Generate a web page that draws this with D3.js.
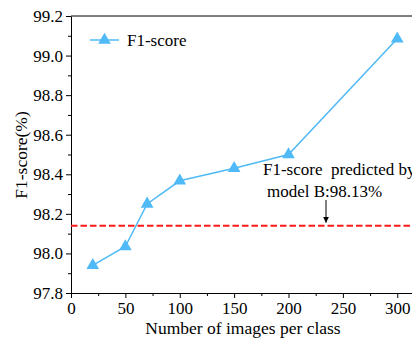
<!DOCTYPE html>
<html>
<head>
<meta charset="utf-8">
<script src="https://cdn.jsdelivr.net/npm/d3@7"></script>
<style>
  body { margin: 0; background: #fff; }
</style>
</head>
<body>
<svg id="chart"></svg>
<script>
// data
const imagesPerClass = [20, 50, 70, 100, 150, 200, 300];
const f1Score = [97.94, 98.035, 98.25, 98.367, 98.43, 98.50, 99.085];
const predictedB = 98.14;
const xTicks = [0, 50, 100, 150, 200, 250, 300];
const yTicks = [97.8, 98.0, 98.2, 98.4, 98.6, 98.8, 99.0, 99.2];

const W = 412, H = 347;
const FONT = "Liberation Serif";
let margin = {top: 16, right: -7, bottom: 54, left: 71};
let width = W - margin.left - margin.right;
let height = H - margin.top - margin.bottom;

const blue = "#4fbaf6";

let svg = d3.select("#chart")
    .attr("width", W)
    .attr("height", H);

let g = svg.append("g")
    .attr("transform", `translate(${margin.left},${margin.top})`);

let x = d3.scaleLinear()
    .domain([0, 320])
    .range([0, width]);

let y = d3.scaleLinear()
    .domain([97.8, 99.2])
    .range([height, 0]);

// minor ticks first
g.append("g")
    .attr("transform", `translate(0,${height})`)
    .call(d3.axisBottom(x).tickValues(d3.range(25, 320, 50)).tickSize(3).tickFormat(""))
    .call(a => a.select(".domain").remove());
g.append("g")
    .call(d3.axisLeft(y).tickValues(d3.range(97.9, 99.2, 0.2)).tickSize(3).tickFormat(""))
    .call(a => a.select(".domain").remove());

let xAxis = g.append("g")
    .attr("transform", `translate(0,${height})`)
    .call(d3.axisBottom(x).tickValues(xTicks).tickSize(5).tickSizeOuter(0).tickPadding(4));

let yAxis = g.append("g")
    .call(d3.axisLeft(y).tickValues(yTicks).tickSize(5).tickSizeOuter(0).tickPadding(3)
        .tickFormat(d3.format(".1f")));

[xAxis, yAxis].forEach(a => {
    a.attr("font-family", FONT).attr("font-size", 17);
    a.selectAll("text").attr("fill", "#000");
    a.selectAll("line, path").style("stroke", "#000").style("stroke-width", "1px");
});
g.selectAll("line").style("stroke", "#000");

// top frame line
g.append("line")
    .attr("x1", 0).attr("x2", width)
    .attr("y1", 0).attr("y2", 0)
    .style("stroke", "#000");

// red dashed reference
g.append("line")
    .attr("x1", 0).attr("x2", width)
    .attr("y1", y(predictedB)).attr("y2", y(predictedB))
    .style("stroke", "#ff1a1a")
    .style("stroke-width", "2px")
    .style("stroke-dasharray", "6.5,3");

// series line
let pts = imagesPerClass.map((d, i) => [d, f1Score[i]]);
g.append("path")
    .datum(pts)
    .attr("fill", "none")
    .attr("stroke", blue)
    .attr("stroke-width", 1.5)
    .attr("d", d3.line().x(d => x(d[0])).y(d => y(d[1])));

let tri = d3.symbol().type(d3.symbolTriangle).size(70);
g.selectAll(".pt")
    .data(pts)
    .join("path")
    .attr("class", "pt")
    .attr("d", tri)
    .attr("transform", d => `translate(${x(d[0])},${y(d[1])})`)
    .attr("fill", blue);

// legend
let leg = g.append("g").attr("transform", "translate(19,24)");
leg.append("line")
    .attr("x1", 0).attr("x2", 29)
    .style("stroke", blue).style("stroke-width", 1.5);
leg.append("path")
    .attr("d", tri)
    .attr("transform", "translate(14.5,0)")
    .attr("fill", blue);
leg.append("text")
    .attr("x", 37).attr("y", 6)
    .attr("font-family", FONT).attr("font-size", 17)
    .text("F1-score");

// annotation
g.append("text")
    .attr("x", 263 - margin.left).attr("y", 175 - margin.top)
    .attr("font-family", FONT).attr("font-size", 17)
    .style("white-space", "pre")
    .text("F1-score  predicted by");
g.append("text")
    .attr("x", 267 - margin.left).attr("y", 197 - margin.top)
    .attr("font-family", FONT).attr("font-size", 17)
    .text("model B:98.13%");

svg.append("defs").append("marker")
    .attr("id", "arr")
    .attr("viewBox", "0 0 10 10")
    .attr("refX", 10).attr("refY", 5)
    .attr("markerWidth", 6).attr("markerHeight", 6)
    .attr("orient", "auto")
    .append("path")
    .attr("d", "M0,0L10,5L0,10z")
    .attr("fill", "#000");

g.append("line")
    .attr("x1", 326 - margin.left).attr("x2", 326 - margin.left)
    .attr("y1", 200 - margin.top).attr("y2", y(predictedB) - 3)
    .style("stroke", "#000")
    .style("stroke-width", 1)
    .attr("marker-end", "url(#arr)");

// axis titles
svg.append("text")
    .attr("x", 243).attr("y", 334)
    .attr("text-anchor", "middle")
    .attr("font-family", FONT).attr("font-size", 17.5)
    .text("Number of images per class");

svg.append("text")
    .attr("transform", "translate(27,155) rotate(-90)")
    .attr("text-anchor", "middle")
    .attr("font-family", FONT).attr("font-size", 17.5)
    .text("F1-score(%)");
</script>
</body>
</html>
